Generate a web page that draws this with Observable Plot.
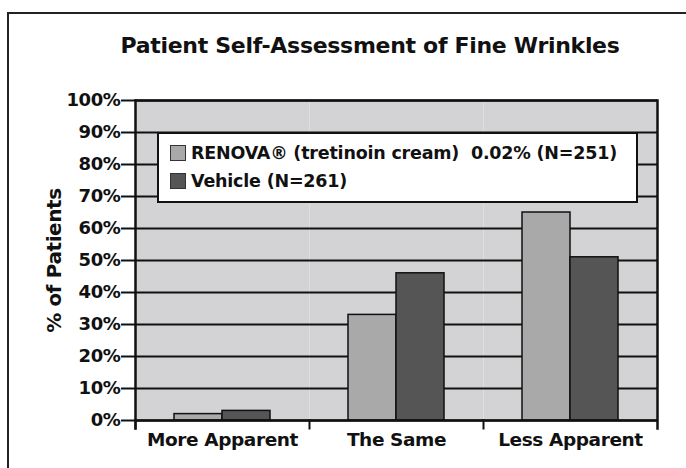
<!DOCTYPE html>
<html>
<head>
<meta charset="utf-8">
<script src="https://cdn.jsdelivr.net/npm/d3@7"></script>
<script src="https://cdn.jsdelivr.net/npm/@observablehq/plot@0.6"></script>
<style>
  html, body { margin: 0; padding: 0; background: #fff; }
  body { width: 686px; height: 468px; position: relative; overflow: hidden; font-family: "DejaVu Sans", sans-serif; color: #111; }
  #border { position: absolute; left: 7px; top: 12px; width: 700px; height: 500px; border-left: 2px solid #222; border-top: 2px solid #222; }
  #title { position: absolute; left: 0; width: 740px; top: 33px; text-align: center; font-weight: bold; font-size: 22px; letter-spacing: -0.3px; }
  #chart { position: absolute; left: 0; top: 0; }
  #legend { position: absolute; left: 157px; top: 132px; width: 477px; height: 67px; background: #fff; border: 2px solid #111; box-sizing: content-box; font-weight: bold; font-size: 17.5px; letter-spacing: -0.2px; }
  .row { position: absolute; left: 11px; display: flex; align-items: center; white-space: pre; }
  .sw { width: 14px; height: 14px; border: 1px solid #333; margin-right: 5px; }
</style>
</head>
<body>
<div id="border"></div>
<div id="title"></div>
<div id="chart"></div>
<div id="legend"></div>
<script>
const title = "Patient Self-Assessment of Fine Wrinkles";
const categories = ["More Apparent", "The Same", "Less Apparent"];
const seriesNames = ["RENOVA® (tretinoin cream)  0.02% (N=251)", "Vehicle (N=261)"];
const seriesKeys = ["RENOVA", "Vehicle"];
const renovaValues = [2, 33, 65];
const vehicleValues = [3, 46, 51];
const yTicks = [0, 10, 20, 30, 40, 50, 60, 70, 80, 90, 100];
const yLabel = "% of Patients";
const colors = ["#a9a9a9", "#555555"];

const data = [];
categories.forEach((c, i) => {
  data.push({category: c, series: seriesKeys[0], value: renovaValues[i]});
  data.push({category: c, series: seriesKeys[1], value: vehicleValues[i]});
});

document.getElementById("title").textContent = title;

const chart = Plot.plot({
  width: 686,
  height: 468,
  marginLeft: 134,
  marginRight: 28,
  marginTop: 100,
  marginBottom: 48,
  style: {fontFamily: "DejaVu Sans", fontWeight: "bold", fontSize: "18px", color: "#111", background: "transparent", letterSpacing: "-0.4px"},
  fx: {domain: categories, padding: 0, label: null},
  x: {domain: seriesKeys, paddingInner: 0, paddingOuter: 0.81, axis: null},
  y: {domain: [0, 100], axis: null},
  color: {domain: seriesKeys, range: colors},
  marks: [
    Plot.frame({fill: "#d3d3d5", stroke: "none"}),
    Plot.ruleY(yTicks, {stroke: "#111", strokeWidth: 2}),
    Plot.barY(data, {fx: "category", x: "series", y: "value", fill: "series", stroke: "#111", strokeWidth: 1.5}),
    Plot.ruleY([0, 100], {stroke: "#111", strokeWidth: 2.5}),
    Plot.frame({anchor: "left", stroke: "#111", strokeWidth: 2, insetTop: 320, insetBottom: -8}),
    Plot.frame({anchor: "left", facetAnchor: "left", stroke: "#111", strokeWidth: 2.5, insetBottom: -8}),
    Plot.frame({anchor: "right", facetAnchor: "right", stroke: "#111", strokeWidth: 2.5, insetBottom: -8}),
    Plot.axisY({ticks: yTicks, tickFormat: d => d + "%", tickSize: 14, tickPadding: 1, strokeWidth: 2, label: yLabel, labelAnchor: "center", labelArrow: "none", labelOffset: 89, fontSize: 18}),
    Plot.axisFx({anchor: "bottom", tickSize: 0, tickPadding: 12, label: null, fontSize: 18.5})
  ]
});
document.getElementById("chart").appendChild(chart);

// make the y-axis title a little larger than the tick labels
chart.querySelectorAll("[aria-label='y-axis label'] text").forEach(t => t.setAttribute("font-size", 20));

const legend = document.getElementById("legend");
seriesNames.forEach((name, i) => {
  const row = document.createElement("div");
  row.className = "row";
  row.style.top = (i === 0 ? 9 : 37) + "px";
  const sw = document.createElement("div");
  sw.className = "sw";
  sw.style.background = colors[i];
  const t = document.createElement("span");
  t.textContent = name;
  row.appendChild(sw);
  row.appendChild(t);
  legend.appendChild(row);
});
</script>
</body>
</html>
